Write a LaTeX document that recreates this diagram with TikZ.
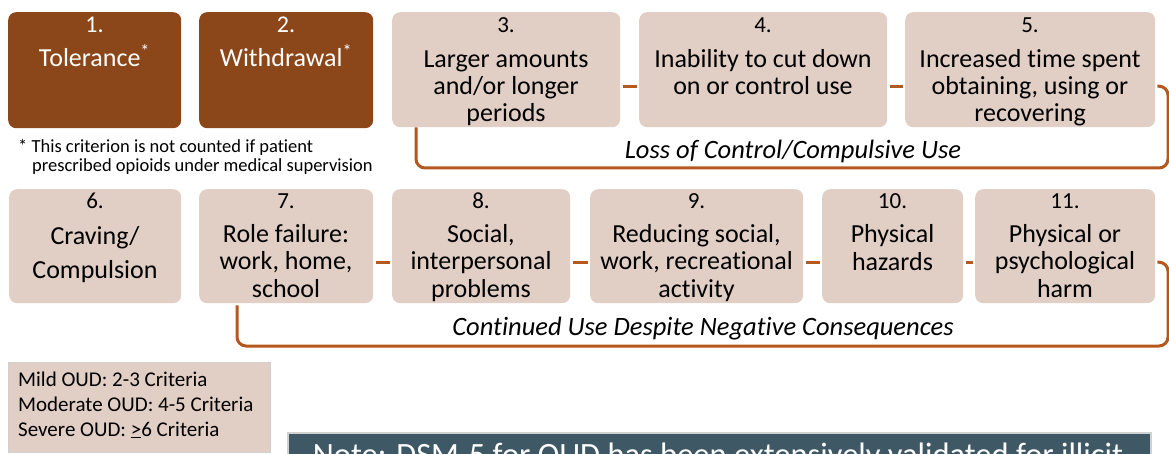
\documentclass[tikz,border=0pt]{standalone}
\usepackage{fontspec}
\setmainfont{Carlito}[Ligatures={NoCommon}]
\definecolor{brownbox}{HTML}{8B4619}
\definecolor{lightbox}{HTML}{E1CEC4}
\definecolor{connc}{HTML}{B5581E}
\definecolor{darkbox}{HTML}{3F5866}
\definecolor{legendline}{HTML}{D0D0D0}
\tikzset{
  crit/.style={fill=lightbox, draw=none, rounded corners=8pt, inner sep=0pt, anchor=north west},
  critdark/.style={crit, fill=brownbox},
  numtxt/.style={font=\fontsize{23}{27}\selectfont, anchor=base, inner sep=0pt},
  bodytxt/.style={font=\fontsize{26}{27.4}\selectfont, anchor=base, inner sep=0pt, align=center},
  bigtxt/.style={font=\fontsize{26}{34}\selectfont, anchor=base, inner sep=0pt, align=center},
  conn/.style={draw=connc, line width=3pt, shorten <=2.5pt, shorten >=2.5pt},
  bracket/.style={draw=connc, line width=3pt, rounded corners=9pt},
  grouplabel/.style={font=\fontsize{26.5}{30}\selectfont\itshape, anchor=base, inner sep=0pt},
  small/.style={font=\fontsize{18.5}{22}\selectfont, anchor=base west, inner sep=0pt},
  legendtxt/.style={font=\fontsize{21}{25}\selectfont, anchor=base west, inner sep=0pt},
  legend/.style={fill=lightbox, draw=legendline, line width=1pt, inner sep=0pt, anchor=north west},
}
\begin{document}
\begin{tikzpicture}[x=1pt,y=-1pt]
\useasboundingbox (0,0) rectangle (1169,454);

% Row 1
\node[critdark, minimum width=173pt, minimum height=116pt] (b1) at (8,12) {};
\node[critdark, minimum width=174pt, minimum height=116pt] (b2) at (199,12) {};
\node[crit, minimum width=228pt, minimum height=115pt] (b3) at (392,12) {};
\node[crit, minimum width=248pt, minimum height=115pt] (b4) at (639,12) {};
\node[crit, minimum width=250pt, minimum height=115pt] (b5) at (905,12) {};

\node[numtxt, text=white, font=\fontsize{24}{27}\selectfont] (n1) at (94.5,33) {1.};
\node[bodytxt, text=white] (t1) at (94.5,67) {Tolerance\textsuperscript{*}};
\node[numtxt, text=white, font=\fontsize{24}{27}\selectfont] (n2) at (286,33) {2.};
\node[bodytxt, text=white] (t2) at (286,67) {Withdrawal\textsuperscript{*}};

\node[numtxt] (n3) at (506,33) {3.};
\node[bodytxt] (t3) at (506,122) {Larger amounts\\and/or longer\\periods};
\node[numtxt] (n4) at (763,33) {4.};
\node[bodytxt] (t4) at (763,95) {Inability to cut down\\on or control use};
\node[numtxt] (n5) at (1030,33) {5.};
\node[bodytxt] (t5) at (1030,122) {Increased time spent\\obtaining, using or\\recovering};

\draw[conn] ([yshift=-16.5pt]b3.east) -- ([yshift=-16.5pt]b4.west);
\draw[conn] ([yshift=-16.5pt]b4.east) -- ([yshift=-16.5pt]b5.west);

\coordinate (k1) at (1168,168);
\draw[bracket, shorten <=2pt] ([yshift=-16.5pt]b5.east) -| (k1) -| ([xshift=24pt]b3.south west);
\node[grouplabel] (g1) at (793,159) {Loss of Control/Compulsive Use};

% footnote
\node[small] (f1) at (18,153) {* This criterion is not counted if patient};
\node[small] (f2) at (32,172) {prescribed opioids under medical supervision};

% Row 2
\node[crit, minimum width=172pt, minimum height=114pt] (b6) at (9,189) {};
\node[crit, minimum width=174pt, minimum height=114pt] (b7) at (199,189) {};
\node[crit, minimum width=178pt, minimum height=114pt] (b8) at (392,189) {};
\node[crit, minimum width=213pt, minimum height=114pt] (b9) at (590,189) {};
\node[crit, minimum width=141pt, minimum height=114pt] (b10) at (822,189) {};
\node[crit, minimum width=180pt, minimum height=114pt] (b11) at (975,189) {};

\node[numtxt] (n6) at (95,209) {6.};
\node[bigtxt] (t6) at (95,278) {Craving/\\Compulsion};
\node[numtxt] (n7) at (286,209) {7.};
\node[bodytxt] (t7) at (286,297) {Role failure:\\work, home,\\school};
\node[numtxt] (n8) at (481,209) {8.};
\node[bodytxt] (t8) at (481,297) {Social,\\interpersonal\\problems};
\node[numtxt] (n9) at (696.5,209) {9.};
\node[bodytxt] (t9) at (696.5,297) {Reducing social,\\work, recreational\\activity};
\node[numtxt] (n10) at (892.5,209) {10.};
\node[bodytxt] (t10) at (892.5,270) {Physical\\hazards};
\node[numtxt] (n11) at (1065,209) {11.};
\node[bodytxt] (t11) at (1065,297) {Physical or\\psychological\\harm};

\draw[conn] ([yshift=-16pt]b7.east) -- ([yshift=-16pt]b8.west);
\draw[conn] ([yshift=-16pt]b8.east) -- ([yshift=-16pt]b9.west);
\draw[conn] ([yshift=-16pt]b9.east) -- ([yshift=-16pt]b10.west);
\draw[conn] ([yshift=-16pt]b10.east) -- ([yshift=-16pt]b11.west);

\coordinate (k2) at (1168,346);
\draw[bracket, shorten <=2pt] ([yshift=-16pt]b11.east) -| (k2) -| ([xshift=38pt,yshift=-2pt]b7.south west);
\node[grouplabel] (g2) at (703,335) {Continued Use Despite Negative Consequences};

% Legend
\node[legend, minimum width=262pt, minimum height=90pt] (leg) at (8,362) {};
\node[legendtxt] (l1) at (18,386) {Mild OUD: 2-3 Criteria};
\node[legendtxt] (l2) at (18,411) {Moderate OUD: 4-5 Criteria};
\node[legendtxt] (l3) at (18,436) {Severe OUD: \underline{>}6 Criteria};

% Note box (cut off at bottom)
\begin{scope}
\clip (0,0) rectangle (1169,454);
\node[fill=darkbox, draw=legendline, line width=2pt, inner sep=0pt, anchor=north west, minimum width=863pt, minimum height=60pt] (note) at (287,432) {};
\node[font=\fontsize{32.5}{36}\selectfont, text=white, anchor=base, inner sep=0pt] (notetxt) at (718,465) {Note: DSM-5 for OUD has been extensively validated for illicit};
\end{scope}
\end{tikzpicture}
\end{document}
